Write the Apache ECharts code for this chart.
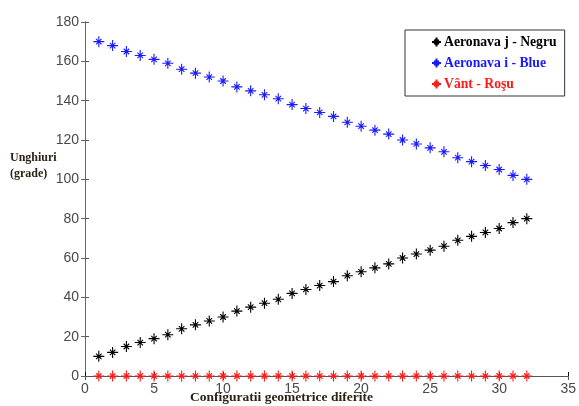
<!DOCTYPE html>
<html>
<head>
<meta charset="utf-8">
<script src="https://cdn.jsdelivr.net/npm/echarts@6/dist/echarts.min.js"></script>
<style>
html, body { margin: 0; padding: 0; background: #fff; }
#chart { width: 579px; height: 406px; }
</style>
</head>
<body>
<div id="chart"></div>
<script>
// configuratii 1..32
var configs = [1, 2, 3, 4, 5, 6, 7, 8, 9, 10, 11, 12, 13, 14, 15, 16, 17, 18, 19, 20, 21, 22, 23, 24, 25, 26, 27, 28, 29, 30, 31, 32]
var negru = [10, 12, 15, 17, 19, 21, 24, 26, 28, 30, 33, 35, 37, 39, 42, 44, 46, 48, 51, 53, 55, 57, 60, 62, 64, 66, 69, 71, 73, 75, 78, 80]
var blue = [170, 168, 165, 163, 161, 159, 156, 154, 152, 150, 147, 145, 143, 141, 138, 136, 134, 132, 129, 127, 125, 123, 120, 118, 116, 114, 111, 109, 107, 105, 102, 100]
var rosu = [0, 0, 0, 0, 0, 0, 0, 0, 0, 0, 0, 0, 0, 0, 0, 0, 0, 0, 0, 0, 0, 0, 0, 0, 0, 0, 0, 0, 0, 0, 0, 0]
var names = ['Aeronava j - Negru', 'Aeronava i - Blue', 'Vânt - Roşu']
var colors = ['#000000', '#1a1aff', '#ff1a1a']
var xTicks = [0, 5, 10, 15, 20, 25, 30, 35]
var yTicks = [0, 20, 40, 60, 80, 100, 120, 140, 160, 180]

// asterisc: plus mare + diagonale scurte
var star = 'path://M6,0 L6,12 M0,6 L12,6 M3,3 L9,9 M3,9 L9,3'

function pairs(ys) {
    return configs.map(function (x, i) { return [x, ys[i]] })
}

function mkSeries(name, ys, color) {
    return {
        name: name,
        type: 'scatter',
        data: pairs(ys),
        symbol: star,
        symbolSize: 11,
        itemStyle: { color: 'rgba(0,0,0,0)', borderColor: color, borderWidth: 1.1, opacity: 1 },
        emphasis: { disabled: true },
        z: 3
    }
}

var axisFont = { fontFamily: 'Liberation Sans', fontSize: 14, color: '#4a4a4a' }
var serif = 'Liberation Serif'

var dom = document.getElementById('chart')
var chart = echarts.init(dom, null, { renderer: 'canvas' })
var option = {
    animation: false,
    color: colors,
    grid: { left: 85, right: 9, top: 22, bottom: 30, containLabel: false },
    legend: {
        orient: 'vertical',
        left: 405,
        top: 30,
        padding: [5, 8, 5, 26],
        itemGap: 7,
        itemWidth: 9,
        itemHeight: 9,
        align: 'left',
        borderColor: '#333',
        borderWidth: 1,
        backgroundColor: '#fff',
        data: names.map(function (n, i) {
            return { name: n, textStyle: { color: colors[i] } }
        }),
        textStyle: { fontFamily: serif, fontWeight: 'bold', fontSize: 13.7, padding: [0, 0, 0, -2] }
    },
    xAxis: [{
        type: 'value',
        min: 0, max: 35, interval: 5,
        axisLine: { lineStyle: { color: '#111', width: 1 } },
        axisTick: { inside: true, length: 4, lineStyle: { color: '#111' } },
        axisLabel: Object.assign({ margin: 6, formatter: function (v) { return xTicks.indexOf(v) >= 0 ? v : '' } }, axisFont),
        splitLine: { show: false }
    }, {
        type: 'value', position: 'top',
        min: 0, max: 35, interval: 5,
        axisLine: { show: true, lineStyle: { color: '#555' } },
        axisTick: { inside: true, length: 4, lineStyle: { color: '#555' } },
        axisLabel: { show: false },
        splitLine: { show: false }
    }],
    yAxis: [{
        type: 'value',
        min: 0, max: 180, interval: 20,
        axisLine: { show: true, lineStyle: { color: '#555', width: 1 } },
        axisTick: { inside: true, length: 4, lineStyle: { color: '#555' } },
        axisLabel: Object.assign({ margin: 6, formatter: function (v) { return yTicks.indexOf(v) >= 0 ? v : '' } }, axisFont),
        splitLine: { show: false }
    }, {
        type: 'value', position: 'right',
        min: 0, max: 180, interval: 20,
        axisLine: { show: true, lineStyle: { color: '#666' } },
        axisTick: { inside: true, length: 4, lineStyle: { color: '#666' } },
        axisLabel: { show: false },
        splitLine: { show: false }
    }],
    graphic: [{
        type: 'text', left: 10, top: 150,
        style: { text: 'Unghiuri\n(grade)', fill: '#2b2414', font: 'bold 12px "Liberation Serif"', lineHeight: 16 }
    }, {
        type: 'text', left: 190, top: 391,
        style: { text: 'Configuratii geometrice diferite', fill: '#2b2414', font: 'bold 13.5px "Liberation Serif"' }
    }],
    series: [
        mkSeries(names[0], negru, colors[0]),
        mkSeries(names[1], blue, colors[1]),
        mkSeries(names[2], rosu, colors[2])
    ]
}
chart.setOption(option, true)
</script>
</body>
</html>
